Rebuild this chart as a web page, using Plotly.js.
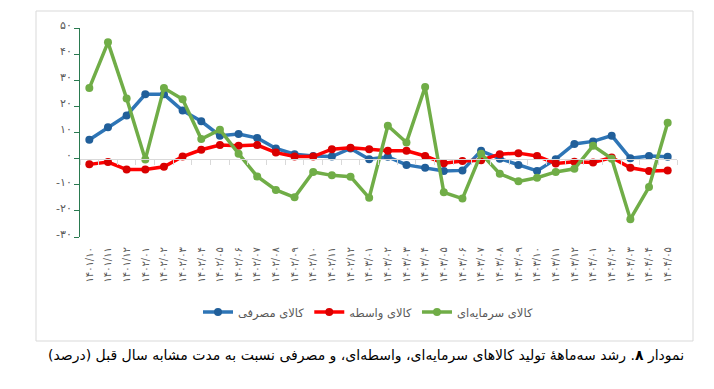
<!DOCTYPE html>
<html>
<head>
<meta charset="utf-8">
<script src="https://cdn.plot.ly/plotly-3.0.1.min.js"></script>
<style>html,body{margin:0;padding:0;background:#fff;}#chart{width:714px;height:389px;}</style>
</head>
<body>
<div id="chart"></div>
<script>
const categories = ["۱۴۰۱/۱۰","۱۴۰۱/۱۱","۱۴۰۱/۱۲","۱۴۰۲/۰۱","۱۴۰۲/۰۲","۱۴۰۲/۰۳","۱۴۰۲/۰۴","۱۴۰۲/۰۵","۱۴۰۲/۰۶","۱۴۰۲/۰۷","۱۴۰۲/۰۸","۱۴۰۲/۰۹","۱۴۰۲/۱۰","۱۴۰۲/۱۱","۱۴۰۲/۱۲","۱۴۰۳/۰۱","۱۴۰۳/۰۲","۱۴۰۳/۰۳","۱۴۰۳/۰۴","۱۴۰۳/۰۵","۱۴۰۳/۰۶","۱۴۰۳/۰۷","۱۴۰۳/۰۸","۱۴۰۳/۰۹","۱۴۰۳/۱۰","۱۴۰۳/۱۱","۱۴۰۳/۱۲","۱۴۰۴/۰۱","۱۴۰۴/۰۲","۱۴۰۴/۰۳","۱۴۰۴/۰۴","۱۴۰۴/۰۵"];
const consumer = [7.2,12.0,16.5,24.6,24.6,18.4,14.3,8.8,9.4,7.9,3.9,1.7,1.0,0.8,3.9,-0.2,0.7,-2.4,-3.5,-4.7,-4.5,3.0,0.0,-2.4,-4.7,-0.2,5.6,6.6,8.8,0.1,1.0,0.7];
const intermediate = [-2.2,-1.3,-4.2,-4.2,-3.1,0.8,3.4,5.2,4.9,5.2,2.3,0.8,0.8,3.6,4.2,3.6,3.0,3.0,1.0,-1.8,-0.9,-0.6,1.7,2.1,1.0,-1.9,-1.2,-1.5,0.4,-3.5,-4.7,-4.5];
const capital = [27.0,44.5,23.0,-0.3,27.0,22.7,7.5,11.1,1.9,-6.8,-12.0,-14.8,-5.1,-6.4,-6.9,-15.0,12.6,6.2,27.4,-12.9,-15.3,1.9,-5.8,-8.7,-7.3,-5.1,-3.9,4.9,0.0,-23.2,-10.9,13.7];
const seriesNames = ["کالای مصرفی","کالای واسطه","کالای سرمایه‌ای"];
const yTickVals = [-30,-20,-10,0,10,20,30,40,50];
const yTickText = ["-۳۰","-۲۰","-۱۰","۰","۱۰","۲۰","۳۰","۴۰","۵۰"];
const caption = "\u200Fنمودار <b>۸</b>. رشد سه‌ماههٔ تولید کالاهای سرمایه‌ای، واسطه‌ای، و مصرفی نسبت به مدت مشابه سال قبل (درصد)\u200F";

const FONT = "DejaVu Sans, Noto Sans, sans-serif";

function mk(y, name, lineColor, markerColor) {
  return {
    x: categories, y: y, name: name, type: "scatter", mode: "lines+markers",
    line: {color: lineColor, width: 3.5},
    marker: {color: markerColor, size: 8},
    hoverinfo: "skip"
  };
}

const traces = [
  mk(consumer, seriesNames[0], "#2E75B6", "#215F9A"),
  mk(intermediate, seriesNames[1], "#FF0000", "#D90000"),
  mk(capital, seriesNames[2], "#70AD47", "#70AD47"),
  {x: categories, y: categories.map(() => 0), xaxis: "x2", yaxis: "y", mode: "lines",
   line: {width: 0}, opacity: 0, showlegend: false, hoverinfo: "skip"}
];

const W = 714, H = 389, L = 80, R = 37, T = 28, B = 152;
const pw = W - L - R, ph = H - T - B;
const px = v => (v - L) / pw;
const py = v => (H - B - v) / ph;

const layout = {
  width: W, height: H,
  margin: {l: L, r: R, t: T, b: B},
  paper_bgcolor: "#ffffff", plot_bgcolor: "#ffffff",
  font: {family: FONT, color: "#595959", size: 11},
  showlegend: true,
  legend: {orientation: "h", x: px(368), y: py(312), xanchor: "center", yanchor: "middle",
           font: {family: FONT, size: 11.5, color: "#595959"}, itemwidth: 30, traceorder: "normal"},
  xaxis: {type: "category", range: [-0.5, categories.length - 0.5], showgrid: false, zeroline: false,
          showline: false, ticks: "", tickangle: -90, tickfont: {family: FONT, size: 10, color: "#595959"},
          ticklabelstandoff: 7, fixedrange: true},
  xaxis2: {type: "category", overlaying: "x", anchor: "free", position: 30/80,
           range: [-0.5, categories.length - 0.5], showgrid: false, zeroline: false,
           showline: true, linecolor: "#D9D9D9", linewidth: 1, ticks: "outside", tickson: "boundaries",
           ticklen: 5, tickcolor: "#D9D9D9", tickwidth: 1, showticklabels: false, side: "bottom"},
  yaxis: {range: [-30, 50], tickvals: yTickVals, ticktext: yTickText, showgrid: false, zeroline: false,
          showline: true, linecolor: "#2A7A50", linewidth: 1, ticks: "outside", ticklen: 5,
          tickcolor: "#2A7A50", tickfont: {family: FONT, size: 11, color: "#595959"},
          ticklabelshift: -3, fixedrange: true},
  shapes: [
    {type: "rect", xref: "paper", yref: "paper", x0: px(36), x1: px(693), y0: py(341), y1: py(11),
     line: {color: "#D9D9D9", width: 1}, fillcolor: "rgba(0,0,0,0)", layer: "below"}
  ],
  annotations: [
    {text: caption, xref: "paper", yref: "paper", x: px(366), y: py(355), xanchor: "center", yanchor: "middle",
     showarrow: false, font: {family: FONT, size: 14, color: "#000000"}}
  ]
};

Plotly.newPlot("chart", traces, layout, {displayModeBar: false, staticPlot: true});
</script>
</body>
</html>
